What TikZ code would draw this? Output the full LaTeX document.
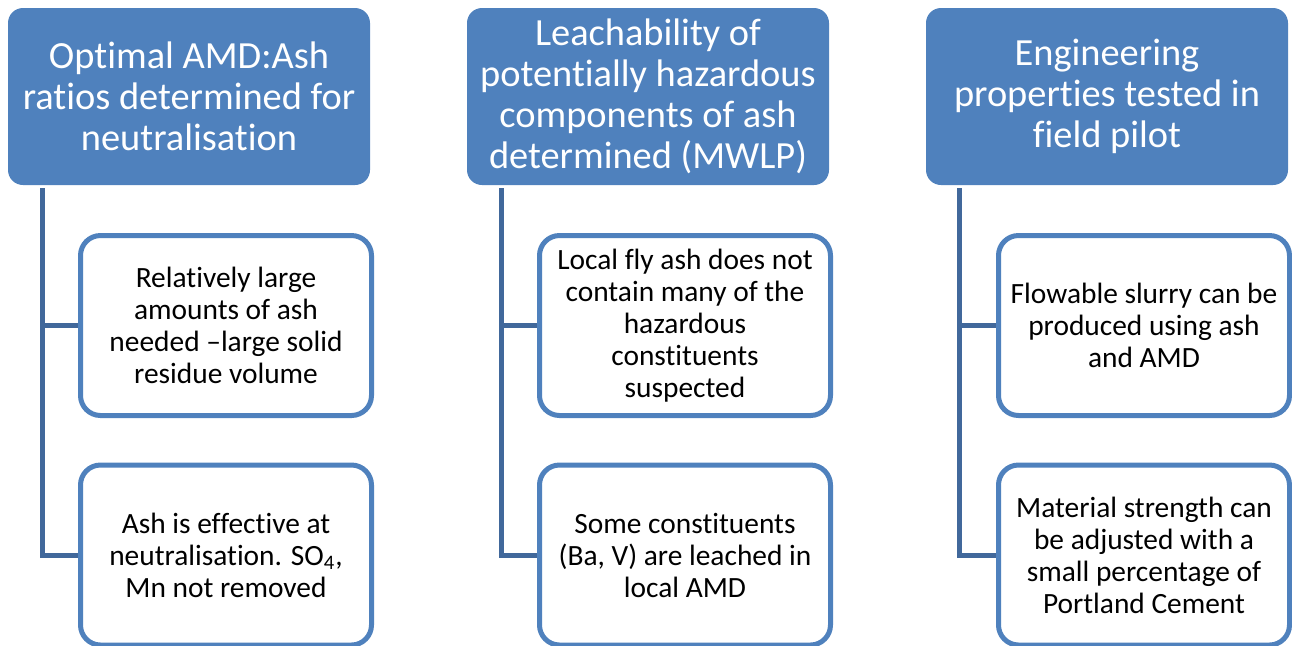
\documentclass[tikz,border=0pt]{standalone}
\usepackage{fontspec}
\setmainfont{Carlito}[Ligatures={TeX,NoCommon}]
\usepackage{tikz}
\usetikzlibrary{positioning, calc}
\definecolor{head}{RGB}{79, 129, 189}
\definecolor{edge}{RGB}{79, 129, 189}
\definecolor{trunk}{RGB}{65, 104, 155}

\tikzset{
  headbox/.style={rectangle, rounded corners=7.5pt, fill=head, text=white,
    minimum width=181pt, minimum height=88.5pt, align=center,
    font=\fontsize{19.2}{20.5}\selectfont},
  itembox/.style={rectangle, rounded corners=10pt, draw=edge, line width=2.5pt, fill=white,
    minimum width=145.5pt, minimum height=90pt, align=center,
    font=\fontsize{14.7}{16}\selectfont},
  branch/.style={trunk, line width=2.5pt}
}

\begin{document}
\begin{tikzpicture}[x=0.5pt, y=-0.5pt]

  \pgfmathsetmacro{\ca}{189};
  \pgfmathsetmacro{\cb}{648};
  \pgfmathsetmacro{\cc}{1107};
  \pgfmathsetmacro{\ya}{325.5};
  \pgfmathsetmacro{\yb}{555};

  \useasboundingbox (0, 0) rectangle (1292, 645);

  % headers
  \node[headbox] (h1) at (\ca, 96.5) {Optimal AMD:Ash\\ratios determined for\\neutralisation};
  \node[headbox] (h2) at (\cb, 96.5) {Leachability of\\potentially hazardous\\components of ash\\determined (MWLP)};
  \node[headbox] (h3) at (\cc, 96.5) {Engineering\\properties tested in\\field pilot};

  % items
  \node[itembox] (c11) at (\ca+37, \ya) {Relatively large\\amounts of ash\\needed –large solid\\residue volume};
  \node[itembox] (c12) at (\ca+37, \yb) {Ash is effective at\\neutralisation. SO\textsubscript{4},\\Mn not removed};
  \node[itembox] (c21) at (\cb+37, \ya) {Local fly ash does not\\contain many of the\\hazardous\\constituents\\suspected};
  \node[itembox] (c22) at (\cb+37, \yb) {Some constituents\\(Ba, V) are leached in\\local AMD};
  \node[itembox] (c31) at (\cc+37, \ya) {Flowable slurry can be\\produced using ash\\and AMD};
  \node[itembox] (c32) at (\cc+37, \yb) {Material strength can\\be adjusted with a\\small percentage of\\Portland Cement};

  \coordinate (t1) at ($(h1.south west)+(35, 3)$);
  \coordinate (t2) at ($(h2.south west)+(35, 3)$);
  \coordinate (t3) at ($(h3.south west)+(34, 3)$);

  \draw[branch] (t1) |- (c11.west);
  \draw[branch] (t1) |- (c12.west);
  \draw[branch] (t2) |- (c21.west);
  \draw[branch] (t2) |- (c22.west);
  \draw[branch] (t3) |- (c31.west);
  \draw[branch] (t3) |- (c32.west);

\end{tikzpicture}
\end{document}
